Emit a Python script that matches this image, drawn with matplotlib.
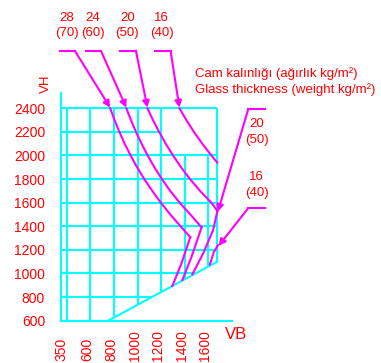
import matplotlib.pyplot as plt
from matplotlib.transforms import ScaledTranslation

plt.rcParams['font.family'] = ['Liberation Sans', 'DejaVu Sans']

CYAN = '#00ffff'
MAGENTA = '#ff00ff'
RED = '#ff0000'
LW = 1.5
FS = 9.5

# axis ticks
vh_ticks = [600, 800, 1000, 1200, 1400, 1600, 1800, 2000, 2200, 2400]
vb_ticks = [350, 600, 800, 1000, 1200, 1400, 1600]

# sloped bottom edge of the usable area
base_vb = [750, 1675]
base_vh = [600, 1100]

# vertical grid lines (VB) and the height each one reaches
grid_cols = [400, 600, 800, 1000, 1200, 1400, 1600, 1675]
grid_col_tops = [2400, 2400, 2400, 2400, 2400, 2000, 2000, 2400]
# horizontal grid lines (VH) and where they stop on the right
grid_rows = [1200, 1400, 1600, 1800, 2000, 2200, 2400]
grid_row_ends = [1675, 1675, 1675, 1675, 1675, 1200, 1675]
# rows that stop at the sloped edge
short_rows = [800, 1000]

# limit curves per glass thickness mm (weight kg/m2)
thick_labels = ['28\n(70)', '24\n(60)', '20\n(50)', '16\n(40)']
upper_vb = [
    [767, 804, 845, 890, 940, 995, 1056, 1124, 1197, 1277, 1364, 1446],
    [904, 943, 986, 1033, 1085, 1142, 1206, 1276, 1356, 1447, 1542],
    [1083, 1130, 1182, 1238, 1300, 1368, 1444, 1529, 1625, 1676],
    [1354, 1413, 1477, 1548, 1625, 1675],
]
upper_vh = [
    [2400, 2300, 2200, 2100, 2000, 1900, 1800, 1700, 1600, 1500, 1400, 1307],
    [2400, 2300, 2200, 2100, 2000, 1900, 1800, 1700, 1600, 1500, 1391],
    [2400, 2300, 2200, 2100, 2000, 1900, 1800, 1700, 1600, 1530],
    [2400, 2300, 2200, 2100, 2000, 1940],
]
lower_vb = [
    [1446, 1372, 1294],
    [1542, 1457, 1379],
    [1676, 1640, 1556, 1464],
    [1682, 1646, 1612],
]
lower_vh = [
    [1307, 1087, 894],
    [1391, 1142, 945],
    [1530, 1369, 1171, 993],
    [1240, 1182, 1076],
]

# label positions and leader corners for the top labels
top_label_vb = [399, 620, 912, 1202]
top_leader_x0 = [340, 561, 849, 1146]
top_leader_x1 = [467, 688, 985, 1279]

fig = plt.figure(figsize=(3.81, 3.63), dpi=100)
ax = fig.add_axes([61 / 381, 42.3 / 363, 171 / 381, 228 / 363])
ax.set_xlim(350, 1800)
ax.set_ylim(600, 2532)

for side in ['top', 'right']:
    ax.spines[side].set_visible(False)
for side in ['left', 'bottom']:
    ax.spines[side].set_color(CYAN)
    ax.spines[side].set_linewidth(LW)

ax.set_yticks(vh_ticks, [str(v) for v in vh_ticks])
ax.set_xticks(vb_ticks, [str(v) for v in vb_ticks])
ax.tick_params(axis='y', length=0, pad=11.5, labelsize=FS + 0.5, labelcolor=RED)
ax.tick_params(axis='x', length=0, pad=28.8, labelsize=FS + 0.5, labelcolor=RED,
               labelrotation=90)
shift = ScaledTranslation(-3 / 100, 0, fig.dpi_scale_trans)
for i, lab in enumerate(ax.get_xticklabels()):
    lab.set_verticalalignment('bottom')
    if i > 0:
        lab.set_transform(lab.get_transform() + shift)

slope = (base_vh[1] - base_vh[0]) / (base_vb[1] - base_vb[0])


def base_at(vb):
    return max(base_vh[0], base_vh[0] + slope * (vb - base_vb[0]))


# grid
for vb, top in zip(grid_cols, grid_col_tops):
    ax.vlines(vb, base_at(vb), top, color=CYAN, lw=LW)
for vh, end in zip(grid_rows, grid_row_ends):
    ax.hlines(vh, 350, end, color=CYAN, lw=LW)
for vh in short_rows:
    ax.hlines(vh, 350, base_vb[0] + (vh - base_vh[0]) / slope, color=CYAN, lw=LW)
ax.plot(base_vb, base_vh, color=CYAN, lw=LW)

# limit curves
for i in range(4):
    ax.plot(upper_vb[i], upper_vh[i], color=MAGENTA, lw=LW, zorder=3)
    ax.plot(lower_vb[i], lower_vh[i], color=MAGENTA, lw=LW, zorder=3)

arrow = dict(arrowstyle='-|>', color=MAGENTA, lw=LW, mutation_scale=10,
             shrinkA=0, shrinkB=0)

# top labels with leaders
for i in range(4):
    tip = (upper_vb[i][0], upper_vh[i][0] + 5)
    ax.plot([top_leader_x0[i], top_leader_x1[i]], [2888, 2888],
            color=MAGENTA, lw=LW, clip_on=False)
    ax.annotate('', xy=tip, xytext=(top_leader_x1[i], 2888),
                arrowprops=arrow, annotation_clip=False)
    ax.text(top_label_vb[i], 3099, thick_labels[i], color=RED, fontsize=FS,
            ha='center', va='center', linespacing=1.35)

# right labels pointing at the lower branches
for i, lab_vh, lead_vh in [(2, 2202, 2390), (3, 1753, 1553)]:
    tip = (lower_vb[i][0] + 4, lower_vh[i][0] - 6)
    ax.plot([2079, 1937], [lead_vh, lead_vh], color=MAGENTA, lw=LW, clip_on=False)
    ax.annotate('', xy=tip, xytext=(1937, lead_vh),
                arrowprops=arrow, annotation_clip=False)
    ax.text(2008, lab_vh, thick_labels[i], color=RED, fontsize=FS,
            ha='center', va='center', linespacing=1.45)

ax.text(1485, 2668, 'Cam kalınlığı (ağırlık kg/m²)', color=RED, fontsize=FS,
        ha='left', va='baseline')
ax.text(1485, 2527, 'Glass thickness (weight kg/m²)', color=RED, fontsize=FS,
        ha='left', va='baseline')

ax.text(219, 2612, 'VH', color=RED, fontsize=9.5, rotation=90,
        ha='center', va='center')
ax.text(1837, 479, 'VB', color=RED, fontsize=12, ha='center', va='center',
        clip_on=False)

fig.savefig('out.png', dpi=100)
